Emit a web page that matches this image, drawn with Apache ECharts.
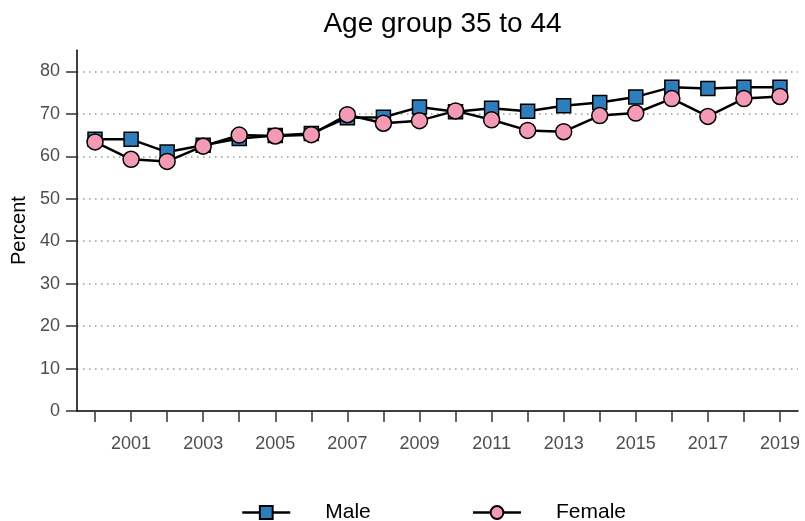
<!DOCTYPE html>
<html><head><meta charset="utf-8">
<script src="https://cdn.jsdelivr.net/npm/echarts@6/dist/echarts.min.js"></script>
<style>html,body{margin:0;padding:0;background:#fff}#c{width:805px;height:521px}</style>
</head><body><div id="c"></div>
<script>
const years = ['2000','2001','2002','2003','2004','2005','2006','2007','2008','2009','2010','2011','2012','2013','2014','2015','2016','2017','2018','2019'];
const male = [64.0,64.0,61.0,62.6,64.2,64.9,65.4,69.1,69.2,71.6,70.5,71.3,70.6,71.9,72.7,74.0,76.3,76.0,76.3,76.3];
const female = [63.4,59.3,58.8,62.4,65.0,64.8,65.1,69.8,67.8,68.4,70.7,68.6,66.1,65.8,69.6,70.2,73.6,69.4,73.6,74.1];
const yTicks = [0,10,20,30,40,50,60,70,80];

const chart = echarts.init(document.getElementById('c'), null, {renderer:'canvas'});
const FONT = 'Liberation Sans, Arial, sans-serif';
chart.setOption({
  animation:false,
  backgroundColor:'#fff',
  title:{text:'Age group 35 to 44', left:437.5, textAlign:'center', top:5,
    textStyle:{fontFamily:FONT, fontSize:28, fontWeight:'normal', color:'#000'}},
  grid:{left:77, right:7, top:50.2, bottom:110},
  legend:{top:497, left:236, itemWidth:48, itemHeight:16, itemGap:101,
    lineStyle:{width:2.5},
    textStyle:{fontFamily:FONT, fontSize:21, color:'#000', padding:[0,0,0,30]},
    data:['Male','Female']},
  xAxis:{type:'category', data:years, boundaryGap:true,
    axisLine:{show:true, lineStyle:{color:'#000', width:1.5}},
    axisTick:{show:true, alignWithLabel:true, length:11, interval:0, lineStyle:{color:'#333', width:1.5}},
    axisLabel:{show:true, interval:function(i){return i%2===1;}, margin:24, fontFamily:FONT, fontSize:18, color:'#4d4d4d'}},
  yAxis:{type:'value', min:0, max:85, interval:10,
    name:'Percent', nameLocation:'middle', nameGap:43, nameRotate:90,
    nameTextStyle:{fontFamily:FONT, fontSize:20, color:'#000'},
    axisLine:{show:true, lineStyle:{color:'#000', width:1.5}},
    axisTick:{show:true, length:11, customValues:yTicks, lineStyle:{color:'#333', width:1.5}},
    axisLabel:{customValues:yTicks, margin:17, fontFamily:FONT, fontSize:18, color:'#4d4d4d'},
    splitLine:{show:true, showMinLine:false, showMaxLine:true, lineStyle:{color:'#999', type:[1.5,4.5], width:1.5}}},
  series:[
    {name:'Male', type:'line', data:male, symbol:'rect', symbolSize:14,
      lineStyle:{color:'#000', width:2.5},
      itemStyle:{color:'#2e7ebb', borderColor:'#000', borderWidth:1.5}},
    {name:'Female', type:'line', data:female, symbol:'circle', symbolSize:16,
      lineStyle:{color:'#000', width:2.5},
      itemStyle:{color:'#f49ab4', borderColor:'#000', borderWidth:1.5}}
  ]
});
</script></body></html>
